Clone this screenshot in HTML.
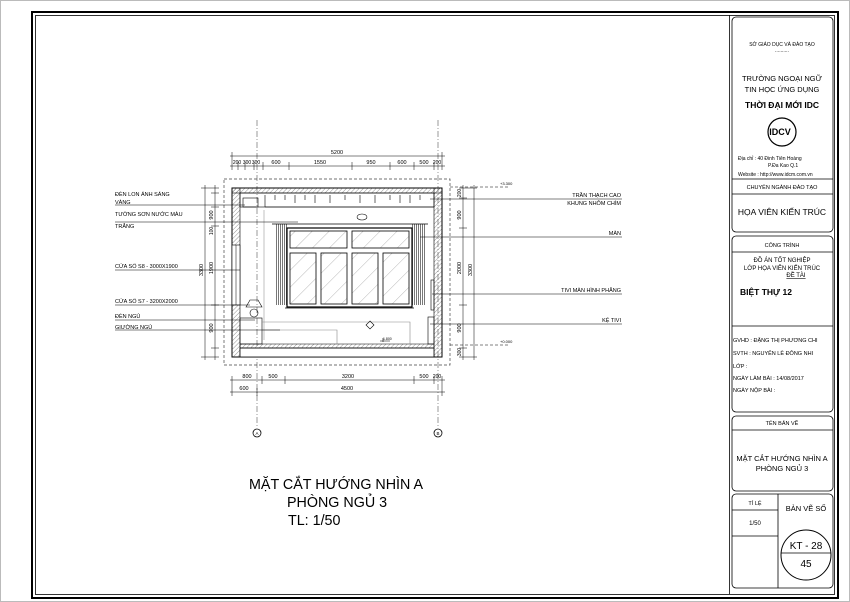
<!DOCTYPE html>
<html><head><meta charset="utf-8"><style>
html,body{margin:0;padding:0;background:#fff;}
svg{display:block;}
text{font-family:"Liberation Sans",sans-serif;fill:#000;}
</style></head><body>
<svg width="850" height="602" viewBox="0 0 850 602" xmlns="http://www.w3.org/2000/svg">
<defs>
<pattern id="h" width="3" height="3" patternUnits="userSpaceOnUse" patternTransform="rotate(45)"><line x1="0" y1="0" x2="0" y2="3" stroke="#666" stroke-width="0.7"/></pattern>
<pattern id="g" width="12" height="12" patternUnits="userSpaceOnUse" patternTransform="rotate(45)"><line x1="0" y1="0" x2="0" y2="12" stroke="#888" stroke-width="0.6"/></pattern>
<pattern id="c" width="2" height="4" patternUnits="userSpaceOnUse"><line x1="0.5" y1="0" x2="0.5" y2="4" stroke="#555" stroke-width="0.8"/></pattern>
</defs>
<rect x="0.5" y="0.5" width="849" height="601" fill="none" stroke="#bbb"/>
<rect x="32" y="12" width="806" height="586" fill="none" stroke="#000" stroke-width="2"/>
<rect x="35.5" y="15.5" width="799" height="579" fill="none" stroke="#000" stroke-width="0.8"/>
<line x1="729.5" y1="15" x2="729.5" y2="594" stroke="#000" stroke-width="0.8"/>
<g fill="none" stroke="#000" stroke-width="0.8">
<rect x="732" y="17" width="101" height="215" rx="4"/>
<line x1="732" y1="179" x2="833" y2="179"/><line x1="732" y1="194" x2="833" y2="194"/>
<rect x="732" y="236" width="101" height="176" rx="4"/>
<line x1="732" y1="252" x2="833" y2="252"/><line x1="732" y1="326" x2="833" y2="326"/>
<rect x="732" y="416" width="101" height="75" rx="4"/>
<line x1="732" y1="430" x2="833" y2="430"/>
<rect x="732" y="494" width="101" height="94" rx="4"/>
<line x1="778" y1="494" x2="778" y2="588"/>
<line x1="732" y1="510" x2="778" y2="510"/><line x1="732" y1="536" x2="778" y2="536"/>
<circle cx="806" cy="555" r="25" stroke-width="1"/>
<line x1="781" y1="553" x2="831" y2="553"/>
<circle cx="782" cy="132" r="14" stroke-width="1.2"/>
</g>
<g font-size="5.5" text-anchor="middle">
<text x="782" y="46" font-size="5">SỞ GIÁO DỤC VÀ ĐÀO TẠO</text>
<text x="782" y="52" font-size="5">..........</text>
<text x="782" y="81" font-size="7.5">TRƯỜNG NGOẠI NGỮ</text>
<text x="782" y="92" font-size="7.5">TIN HỌC ỨNG DỤNG</text>
<text x="782" y="108" font-size="8.5" font-weight="bold">THỜI ĐẠI MỚI IDC</text>
<text x="780" y="135" font-size="9" font-weight="bold" font-family="Liberation Serif">IDCV</text>
<text x="738" y="160" font-size="5" text-anchor="start">Địa chỉ   : 40 Đinh Tiên Hoàng</text>
<text x="768" y="167" font-size="5" text-anchor="start">P.Đa Kao    Q.1</text>
<text x="738" y="176" font-size="5" text-anchor="start">Website : http://www.idcm.com.vn</text>
<text x="782" y="189" font-size="5.5">CHUYÊN NGÀNH ĐÀO TẠO</text>
<text x="782" y="215" font-size="8.5">HỌA VIÊN KIẾN TRÚC</text>
<text x="782" y="247" font-size="5.5">CÔNG TRÌNH</text>
<text x="782" y="262" font-size="6">ĐỒ ÁN TỐT NGHIỆP</text>
<text x="782" y="270" font-size="6">LỚP HỌA VIÊN KIẾN TRÚC</text>
<text x="796" y="277" font-size="6" text-decoration="underline">ĐỀ TÀI</text>
<text x="740" y="295" font-size="8.5" font-weight="bold" text-anchor="start">BIỆT THỰ 12</text>
<g text-anchor="start" font-size="5.5">
<text x="733" y="342">GVHD  : ĐẶNG THỊ PHƯƠNG CHI</text>
<text x="733" y="355">SVTH   : NGUYỄN LÊ ĐÔNG NHI</text>
<text x="733" y="368">LỚP      :</text>
<text x="733" y="380">NGÀY LÀM BÀI   :   14/08/2017</text>
<text x="733" y="392">NGÀY NỘP BÀI   :</text>
</g>
<text x="782" y="425" font-size="5.5">TÊN BẢN VẼ</text>
<text x="782" y="461" font-size="7.5">MẶT CẮT HƯỚNG NHÌN A</text>
<text x="782" y="471" font-size="7.5">PHÒNG NGỦ 3</text>
<text x="755" y="505" font-size="5.5">TỈ LỆ</text>
<text x="755" y="525" font-size="6">1/50</text>
<text x="806" y="511" font-size="7.5">BẢN VẼ SỐ</text>
<text x="806" y="549" font-size="10">KT - 28</text>
<text x="806" y="567" font-size="10">45</text>
</g>

<g stroke="#555" stroke-width="0.6" stroke-dasharray="6,2,1,2" fill="none">
<line x1="257" y1="120" x2="257" y2="428"/>
<line x1="438" y1="120" x2="438" y2="428"/>
</g>
<g fill="none" stroke="#000" stroke-width="0.8">
<circle cx="257" cy="433" r="4"/><circle cx="438" cy="433" r="4"/>
</g>
<text x="257" y="435" font-size="4.5" text-anchor="middle">A</text>
<text x="438" y="435" font-size="4.5" text-anchor="middle">B</text>

<rect x="224" y="179" width="226" height="186" fill="none" stroke="#444" stroke-width="0.7" stroke-dasharray="3,2"/>
<rect x="232" y="188" width="210" height="169" fill="none" stroke="#000" stroke-width="1"/>
<rect x="232" y="188" width="8" height="169" fill="url(#h)" stroke="#000" stroke-width="0.6"/>
<rect x="434" y="188" width="8" height="169" fill="url(#h)" stroke="#000" stroke-width="0.6"/>
<rect x="232" y="188" width="210" height="5" fill="url(#h)" stroke="#000" stroke-width="0.6"/>
<rect x="240" y="348" width="194" height="9" fill="#fff" stroke="#000" stroke-width="0.8"/>
<rect x="240" y="344" width="194" height="4" fill="url(#h)" stroke="#000" stroke-width="0.5"/>
<rect x="232" y="245" width="8" height="60" fill="#fff" stroke="#000" stroke-width="0.6"/>
<line x1="236" y1="245" x2="236" y2="305" stroke="#000" stroke-width="0.5"/>
<g stroke="#000" stroke-width="0.6" fill="none">
<rect x="240" y="193" width="194" height="14"/>
<line x1="265" y1="207" x2="434" y2="207"/>
<line x1="265" y1="195" x2="265" y2="207"/>
<path d="M275 195v5M285 195v5M295 195v8M305 195v5M315 195v8M330 195v8M345 195v5M360 195v8M375 195v8M390 195v5M400 195v8M410 195v8M420 195v5"/>
<rect x="243" y="198" width="15" height="9"/>
<line x1="264" y1="210" x2="264" y2="340" stroke="#999"/>
<ellipse cx="362" cy="217" rx="5" ry="3"/>
</g>
<rect x="275" y="224" width="13" height="81" fill="url(#c)"/>
<rect x="412" y="224" width="13" height="81" fill="url(#c)"/>
<line x1="272" y1="224" x2="428" y2="224" stroke="#000" stroke-width="0.8"/>
<rect x="287" y="228" width="125" height="79" fill="#fff" stroke="#000" stroke-width="1.2"/>
<g fill="url(#g)" stroke="#000" stroke-width="0.8">
<rect x="290" y="231" width="57" height="17"/><rect x="352" y="231" width="57" height="17"/>
<rect x="290" y="253" width="26" height="51"/><rect x="321" y="253" width="26" height="51"/>
<rect x="352" y="253" width="26" height="51"/><rect x="383" y="253" width="26" height="51"/>
</g>
<line x1="285" y1="308" x2="414" y2="308" stroke="#000" stroke-width="0.8"/>
<g stroke="#000" stroke-width="0.6" fill="none">
<path d="M246 307 l4 -7 h8 l4 7 z"/>
<circle cx="254" cy="313" r="4"/>
<rect x="240" y="318" width="22" height="26"/>
<path d="M262 322 h148 v22 M262 330 h75 v14" stroke="#888"/>
<rect x="428" y="317" width="6" height="27"/>
<rect x="431" y="280" width="3" height="30"/>
<path d="M370 321 l4 4 -4 4 -4 -4z"/>
<path d="M380 341 h10 M383 338 v4"/>
</g>
<text x="383" y="340" font-size="3.5">1.800</text>

<g stroke="#000" stroke-width="0.5" fill="none">
<line x1="230" y1="156" x2="445" y2="156"/>
<line x1="230" y1="166" x2="445" y2="166"/>
<path d="M232 152v18M442 152v18M238 162v8M245 162v8M254 162v8M263 162v8M289 162v8M352 162v8M390 162v8M414 162v8M434 162v8"/>
<line x1="230" y1="380" x2="445" y2="380"/>
<line x1="230" y1="392" x2="445" y2="392"/>
<path d="M232 376v20M257 388v8M262 376v8M285 376v8M414 376v8M434 376v8M442 376v20"/>
<line x1="205" y1="185" x2="205" y2="360"/>
<line x1="215" y1="185" x2="215" y2="360"/>
<path d="M201 188h18M201 357h18M211 193h8M211 207h8M211 226h8M211 305h8M211 348h8"/>
<line x1="463" y1="185" x2="463" y2="360"/>
<line x1="474" y1="185" x2="474" y2="360"/>
<path d="M459 188h18M459 357h18M459 198h8M459 228h8M459 305h8M459 348h8"/>
<line x1="450" y1="187" x2="510" y2="187" stroke-dasharray="3,2"/>
<line x1="450" y1="345" x2="510" y2="345" stroke-dasharray="3,2"/>
</g>
<g font-size="5.5" text-anchor="middle">
<text x="337" y="154">5200</text>
<text x="237" y="164" font-size="5">200</text><text x="247" y="164" font-size="5">300</text><text x="256" y="164" font-size="5">300</text>
<text x="276" y="164">600</text><text x="320" y="164">1550</text><text x="371" y="164">950</text>
<text x="402" y="164">600</text><text x="424" y="164">500</text><text x="437" y="164" font-size="5">200</text>
<text x="247" y="378">800</text><text x="273" y="378">500</text><text x="348" y="378">3200</text>
<text x="424" y="378">500</text><text x="437" y="378" font-size="5">200</text>
<text x="244" y="390">600</text><text x="347" y="390">4500</text>
</g>
<g font-size="5.5" text-anchor="middle">
<text transform="translate(203,270) rotate(-90)">3300</text>
<text transform="translate(213,215) rotate(-90)">900</text>
<text transform="translate(213,268) rotate(-90)">1900</text>
<text transform="translate(213,328) rotate(-90)">900</text>
<text transform="translate(213,231) rotate(-90)" font-size="5">100</text>
<text transform="translate(472,270) rotate(-90)">3300</text>
<text transform="translate(461,268) rotate(-90)">2000</text>
<text transform="translate(461,215) rotate(-90)">900</text>
<text transform="translate(461,328) rotate(-90)">900</text>
<text transform="translate(461,193) rotate(-90)" font-size="5">200</text>
<text transform="translate(461,352) rotate(-90)" font-size="5">300</text>
</g>
<text x="500" y="185" font-size="4">+3.300</text>
<text x="500" y="343" font-size="4">+0.000</text>

<g stroke="#000" stroke-width="0.6">
<line x1="115" y1="205" x2="245" y2="205"/>
<line x1="115" y1="222" x2="298" y2="222"/>
<line x1="115" y1="270" x2="240" y2="270"/>
<line x1="115" y1="305" x2="250" y2="305"/>
<line x1="115" y1="320" x2="255" y2="320"/>
<line x1="115" y1="330" x2="280" y2="330"/>
<line x1="430" y1="199" x2="622" y2="199"/>
<line x1="420" y1="237" x2="622" y2="237"/>
<line x1="432" y1="294" x2="622" y2="294"/>
<line x1="430" y1="324" x2="622" y2="324"/>
</g>
<g font-size="5.5">
<text x="115" y="196">ĐÈN LON ÁNH SÁNG</text>
<text x="115" y="204">VÀNG</text>
<text x="115" y="216">TƯỜNG SƠN NƯỚC MÀU</text>
<text x="115" y="228">TRẮNG</text>
<text x="115" y="268">CỬA SỔ S8 - 3000X1900</text>
<text x="115" y="303">CỬA SỔ S7 - 3200X2000</text>
<text x="115" y="318">ĐÈN NGỦ</text>
<text x="115" y="329">GIƯỜNG NGỦ</text>
</g>
<g font-size="5.5" text-anchor="end">
<text x="621" y="197">TRẦN THẠCH CAO</text>
<text x="621" y="205">KHUNG NHÔM CHÌM</text>
<text x="621" y="235">MÀN</text>
<text x="621" y="292">TIVI MÀN HÌNH PHẲNG</text>
<text x="621" y="322">KỆ TIVI</text>
</g>

<g font-size="14.3">
<text x="249" y="489">MẶT CẮT HƯỚNG NHÌN A</text>
<text x="287" y="507">PHÒNG NGỦ 3</text>
<text x="288" y="525">TL:  1/50</text>
</g>
</svg>
</body></html>
